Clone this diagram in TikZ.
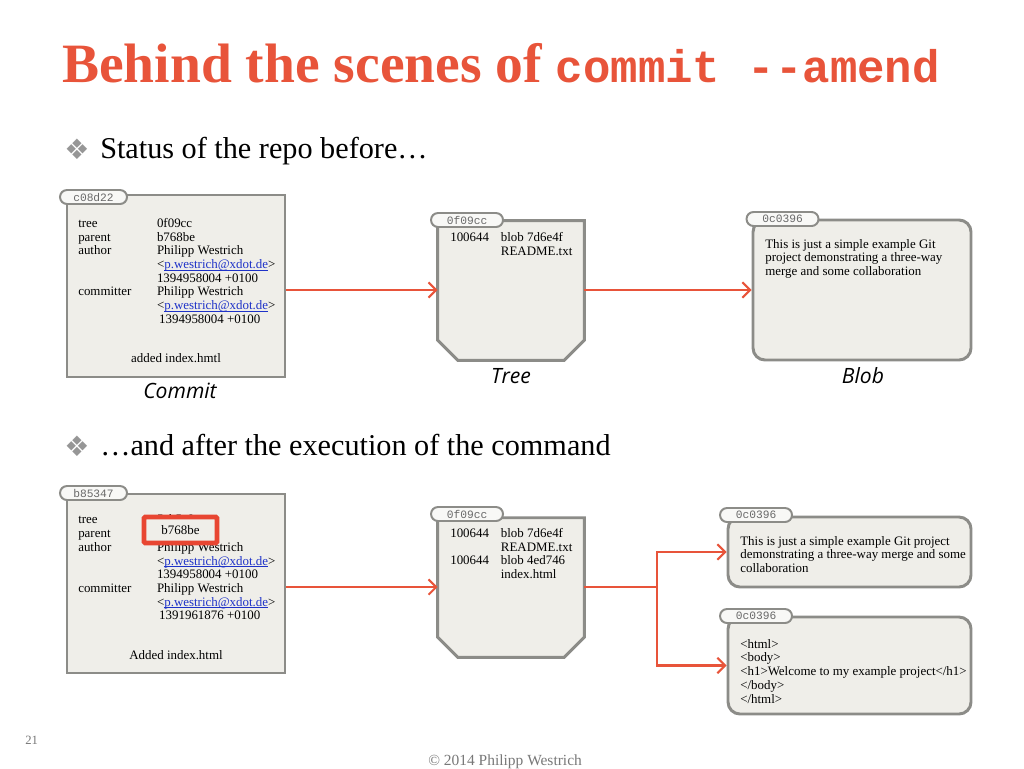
\documentclass[tikz,border=0pt]{standalone}
\usepackage{fontspec}
\setmainfont{Liberation Serif}
\setmonofont{Liberation Mono}
\newfontfamily\symbfont{DejaVu Sans}
\newfontfamily\handfont{Open Sans}
\usetikzlibrary{arrows.meta}
\definecolor{accent}{RGB}{232,84,58}
\definecolor{hilite}{RGB}{232,70,50}
\definecolor{cardfill}{RGB}{239,238,233}
\definecolor{cardline}{RGB}{140,140,136}
\definecolor{tabfill}{RGB}{248,248,246}
\definecolor{tabtext}{RGB}{105,105,105}
\definecolor{linkblue}{RGB}{30,50,200}
\definecolor{bulletgray}{RGB}{150,150,150}
\definecolor{footgray}{RGB}{120,120,120}
\newcommand{\myul}[1]{\setbox0\hbox{#1}\rlap{\rule[-1.3pt]{\wd0}{0.45pt}}\box0}
\newcommand{\mymail}{<\textcolor{linkblue}{\myul{p.westrich@xdot.de}}>}
\newcommand{\bodyfont}{\fontsize{9.2}{9.75}\selectfont}
\begin{document}
\begin{tikzpicture}[x=0.25mm,y=-0.25mm,
  card/.style={draw=cardline, fill=cardfill, line width=2.1pt, inner sep=0pt},
  commitbox/.style={card, rectangle, minimum width=54.5mm},
  treearea/.style={rectangle, inner sep=0pt, minimum width=36.5mm, minimum height=34.75mm},
  blobbox/.style={card, rectangle, rounded corners=3mm},
  tab/.style={draw=cardline, fill=tabfill, line width=1.4pt, rounded corners=1.75mm,
    minimum height=3.5mm, inner sep=0pt, font=\ttfamily\fontsize{8}{8}\selectfont, text=tabtext},
  body/.style={inner sep=0pt, font=\bodyfont, align=left},
  hand/.style={inner sep=0pt, font=\handfont\itshape\fontsize{15}{15}\selectfont},
  arr/.style={draw=accent, line width=1.5pt, -{Straight Barb[length=5.5pt,width=11pt]}},
  link/.style={draw=accent, line width=1.5pt},
  bulletmark/.style={inner sep=0pt, anchor=base west, text=bulletgray, font=\symbfont\fontsize{20}{20}\selectfont},
  bullettext/.style={inner sep=0pt, anchor=base west, font=\fontsize{21.5}{24}\selectfont}
]
\useasboundingbox (0,0) rectangle (1024,768);

% title
\node[anchor=base west, inner sep=0pt, text=accent, font=\fontsize{39.5}{42}\selectfont\bfseries] (title) at (62,82)
  {Behind the scenes of {\ttfamily\fontsize{32.5}{40}\selectfont commit --amend}};

% bullets
\node[bulletmark] (bm1) at (64,159) {❖};
\node[bullettext] (bt1) at (100,158) {Status of the repo before…};
\node[bulletmark] (bm2) at (64,456) {❖};
\node[bullettext] (bt2) at (100,455) {…and after the execution of the command};

% ---------- before ----------
\node[commitbox, minimum height=45.5mm] (c1) at (176,286) {};
\node[tab, minimum width=16.75mm] (c1tab) at (93.5,197) {c08d22};
\node[body, anchor=north west] (c1txt) at (78,217.5) {\begin{tabular}{@{}p{56pt}@{}l@{}}
tree & 0f09cc\\
parent & b768be\\
author & Philipp Westrich\\
 & \mymail\\
 & 1394958004 +0100\\
committer & Philipp Westrich\\
 & \mymail\\
 & \,1394958004 +0100
\end{tabular}};
\node[body] (c1msg) at (176,358) {added index.hmtl};
\node[hand] (c1lab) at (180,391) {Commit};

\node[treearea] (t1) at (511,290.5) {};
\draw[card] (t1.north west) -- (t1.north east) -- ([yshift=5mm]t1.south east) -- ([xshift=-5mm]t1.south east)
  -- ([xshift=5mm]t1.south west) -- ([yshift=5mm]t1.south west) -- cycle;
\node[tab, minimum width=18mm] (t1tab) at (467,220) {0f09cc};
\node[body, anchor=north west] (t1txt) at (450,231.5) {\begin{tabular}{@{}p{36pt}@{}l@{}}
100644 & blob 7d6e4f\\
 & README.txt
\end{tabular}};
\node[hand] (t1lab) at (511,376) {Tree};

\node[blobbox, minimum width=54.5mm, minimum height=35mm] (b1) at (862,290) {};
\node[tab, minimum width=18mm] (b1tab) at (782.5,219) {0c0396};
\node[body, anchor=north west] (b1txt) at (765,239) {This is just a simple example Git\\project demonstrating a three-way\\merge and some collaboration};
\node[hand] (b1lab) at (863,376) {Blob};

\draw[arr] (c1.east |- 0,290) -- (t1.west |- 0,290);
\draw[arr] (t1.east |- 0,290) -- (b1.west |- 0,290);

% ---------- after ----------
\node[commitbox, minimum height=44.75mm] (c2) at (176,583.5) {};
\node[tab, minimum width=16.75mm] (c2tab) at (93.5,493) {b85347};
\node[body, anchor=north west] (c2txt) at (78,514) {\begin{tabular}{@{}p{56pt}@{}l@{}}
tree & 5ab5a9\\
parent & \\
author & Philipp Westrich\\
 & \mymail\\
 & 1394958004 +0100\\
committer & Philipp Westrich\\
 & \mymail\\
 & \,1391961876 +0100
\end{tabular}};
\node[draw=hilite, fill=cardfill, line width=3.5pt, rounded corners=1pt, minimum width=18.25mm,
  minimum height=6.5mm, inner sep=0pt, font=\bodyfont] (hl) at (180.5,530) {b768be};
\node[body] (c2msg) at (176,655) {Added index.html};

\node[treearea] (t2) at (511,587.5) {};
\draw[card] (t2.north west) -- (t2.north east) -- ([yshift=5mm]t2.south east) -- ([xshift=-5mm]t2.south east)
  -- ([xshift=5mm]t2.south west) -- ([yshift=5mm]t2.south west) -- cycle;
\node[tab, minimum width=18mm] (t2tab) at (467,514) {0f09cc};
\node[body, anchor=north west] (t2txt) at (450,527.5) {\begin{tabular}{@{}p{36pt}@{}l@{}}
100644 & blob 7d6e4f\\
 & README.txt\\
100644 & blob 4ed746\\
 & index.html
\end{tabular}};

\node[blobbox, minimum width=60.75mm, minimum height=17.5mm] (b2) at (849.5,552) {};
\node[tab, minimum width=18mm] (b2tab) at (756,515) {0c0396};
\node[body, anchor=north west] (b2txt) at (740,536) {This is just a simple example Git project\\demonstrating a three-way merge and some\\collaboration};

\node[blobbox, minimum width=60.75mm, minimum height=24.25mm] (b3) at (849.5,665.5) {};
\node[tab, minimum width=18mm] (b3tab) at (756,616) {0c0396};
\node[body, anchor=north west] (b3txt) at (740,639) {<html>\\<body>\\<h1>Welcome to my example project</h1>\\</body>\\</html>};

\coordinate (j) at (657,587);
\draw[arr] (c2.east |- 0,587) -- (t2.west |- 0,587);
\draw[link] (t2.east |- j) -- (j);
\draw[arr] (j) |- (b2.west);
\draw[arr] (j) |- (b3.west);

% footer
\node[anchor=base west, inner sep=0pt, text=footgray, font=\fontsize{9}{9}\selectfont] (pg) at (25,744) {21};
\node[anchor=base west, inner sep=0pt, text=footgray, font=\fontsize{11}{11}\selectfont] (copy) at (428,765) {© 2014 Philipp Westrich};
\end{tikzpicture}
\end{document}
